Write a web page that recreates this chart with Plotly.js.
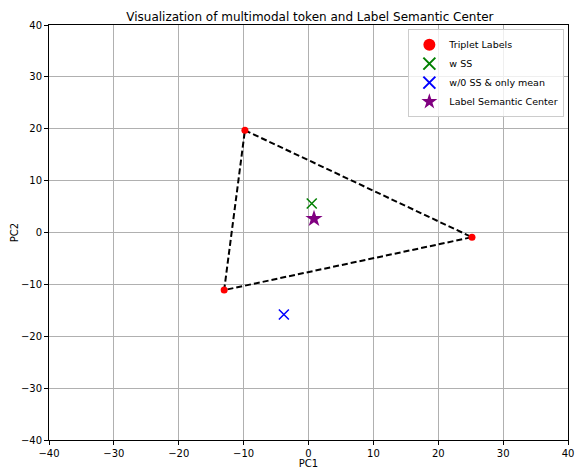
<!DOCTYPE html>
<html><head><meta charset="utf-8">
<script src="https://cdn.plot.ly/plotly-3.0.1.min.js"></script>
<style>body{margin:0;padding:0;background:#fff}#chart{width:576px;height:469px}</style>
</head><body><div id="chart"></div>
<script>
const tripletX = [-9.8, 25.2, -13.0];
const tripletY = [19.7, -0.9, -11.1];
const wssX = [0.5];
const wssY = [5.6];
const woX = [-3.8];
const woY = [-15.8];
const centerX = [0.85];
const centerY = [2.65];
const tickVals = [-40, -30, -20, -10, 0, 10, 20, 30, 40];
const tickText = ['\u221240', '\u221230', '\u221220', '\u221210', '0', '10', '20', '30', '40'];

const font = {family: 'DejaVu Sans', size: 10, color: '#000'};
const traces = [
  {x: tripletX.concat([tripletX[0]]), y: tripletY.concat([tripletY[0]]), mode: 'lines', showlegend: false,
   line: {color: 'black', width: 2, dash: '6px,3px'}, hoverinfo: 'skip'},
  {x: tripletX, y: tripletY, mode: 'markers', name: 'Triplet Labels',
   marker: {color: 'red', size: 7, symbol: 'circle'}},
  {x: wssX, y: wssY, mode: 'markers', name: 'w SS',
   marker: {color: 'green', size: 10, symbol: 'x-thin', line: {color: 'green', width: 1.5}}},
  {x: woX, y: woY, mode: 'markers', name: 'w/0 SS & only mean',
   marker: {color: 'blue', size: 10, symbol: 'x-thin', line: {color: 'blue', width: 1.5}}},
  {x: centerX, y: centerY, mode: 'markers', name: 'Label Semantic Center',
   marker: {color: 'purple', size: 13, symbol: 'star'}}
];
const axis = {
  range: [-40, 40], tickvals: tickVals, ticktext: tickText, ticks: 'outside', ticklen: 4,
  tickcolor: '#000', showgrid: true, gridcolor: '#b0b0b0', gridwidth: 1, zeroline: false,
  showline: true, linecolor: '#000', linewidth: 1, mirror: true, tickfont: font,
  ticklabeloverflow: 'allow'
};
const layout = {
  width: 576, height: 469,
  margin: {l: 49, r: 8, t: 25, b: 29},
  paper_bgcolor: '#fff', plot_bgcolor: '#fff',
  font: font,
  title: {text: 'Visualization of multimodal token and Label Semantic Center', font: {family: 'DejaVu Sans', size: 12, color: '#000'}, x: 0.538, xanchor: 'center', y: 1 - 17/469, yanchor: 'middle'},
  xaxis: Object.assign({}, axis, {title: {text: 'PC1', font: font, standoff: 3}}),
  yaxis: Object.assign({}, axis, {title: {text: 'PC2', font: font, standoff: 0}}),
  legend: {x: 0.993, y: 0.99, xanchor: 'right', yanchor: 'top', bgcolor: 'rgba(255,255,255,0.8)',
           bordercolor: '#ccc', borderwidth: 1, font: {family: 'DejaVu Sans', size: 9.5, color: '#000'},
           tracegroupgap: 0, itemsizing: 'constant', itemwidth: 30},
  showlegend: true
};
Plotly.newPlot('chart', traces, layout, {displayModeBar: false, staticPlot: true});
</script></body></html>
